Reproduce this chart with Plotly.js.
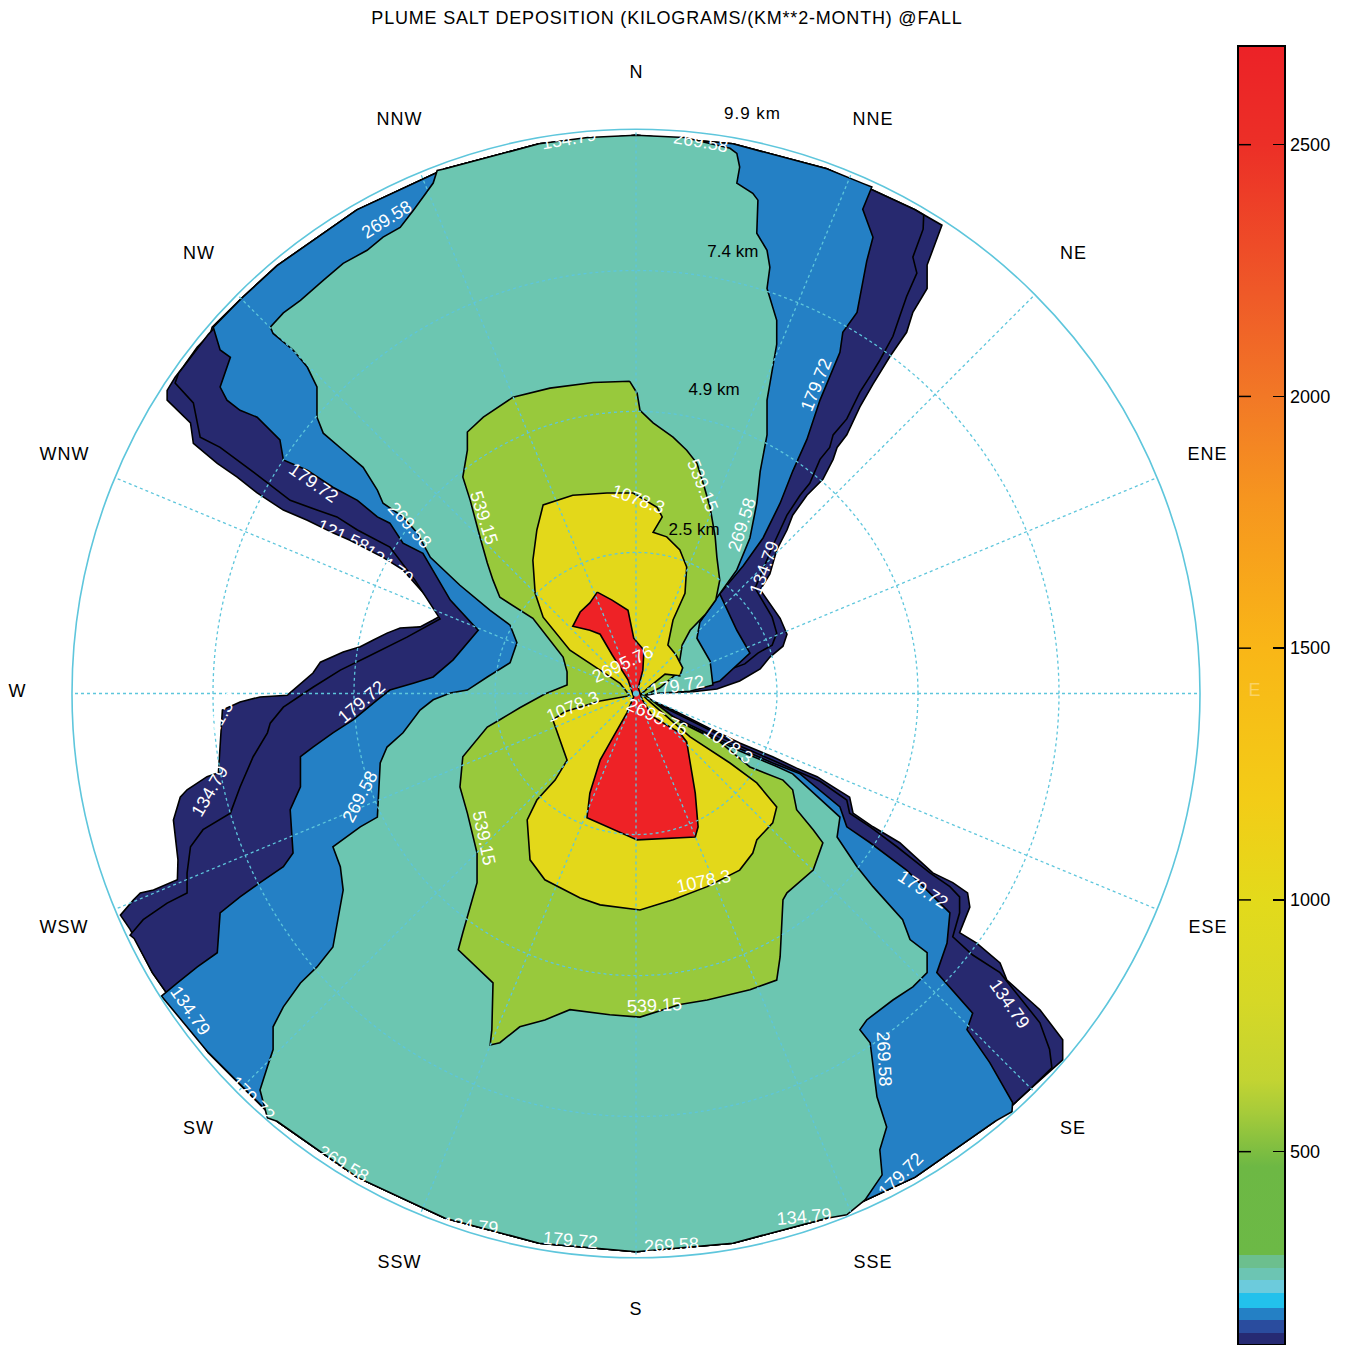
<!DOCTYPE html>
<html>
<head>
<meta charset="utf-8">
<script src="https://cdn.plot.ly/plotly-3.0.1.min.js"></script>
<style>
html,body{margin:0;padding:0;background:#ffffff;}
#chart{width:1348px;height:1345px;}
#chart .gtitle{letter-spacing:0.8px;}
#chart .annotation-text{letter-spacing:1px;}
</style>
</head>
<body>
<div id="chart"></div>
<script>
// ---------------- DATA ----------------
const chartTitle = 'PLUME SALT DEPOSITION (KILOGRAMS/(KM**2-MONTH) @FALL';
const directionLabels = ['N','NNE','NE','ENE','E','ESE','SE','SSE','S','SSW','SW','WSW','W','WNW','NW','NNW'];
const directionBearings = [0,22.5,45,67.5,90,112.5,135,157.5,180,202.5,225,247.5,270,292.5,315,337.5];
const radialMaxKm = 9.9;
const ringDistancesKm = [2.475, 4.95, 7.425];
const ringLabelText = ['2.5 km','4.9 km','7.4 km'];
const outerRingLabel = '9.9 km';
const levelValues = [121.58, 134.79, 179.72, 269.58, 539.15, 1078.3, 2695.76];
const colorbarTicks = [500, 1000, 1500, 2000, 2500];

// contour boundaries (km east, km north of source), traced clockwise from north
const contour121 = [[0,9.8],[1.70,9.65],[3.35,9.21],[4.90,8.49],[5.37,8.22],
[5.11,7.52],[5.11,7.11],[4.86,6.69],[4.75,6.34],[4.46,5.92],[4.16,5.43],[3.93,5.03],[3.70,4.54],[3.53,4.32],[3.46,4.11],[3.28,3.76],[3.00,3.48],[2.75,3.13],[2.65,2.87],[2.47,2.52],[2.35,2.10],[2.18,1.82],[2.53,1.32],[2.65,1.04],[2.58,0.83],[2.35,0.64],[2.18,0.43],[1.82,0.22],[1.42,0.08],[1.00,0.03],[0.42,0.01],[0.16,-0.01],[0.07,-0.03],
[0.65,-0.29],[1.25,-0.59],[1.82,-0.87],[2.40,-1.11],[2.82,-1.31],[3.18,-1.46],[3.46,-1.64],[3.75,-1.82],[3.81,-2.10],[4.16,-2.34],[4.63,-2.62],[5.21,-3.15],[5.56,-3.32],[5.82,-3.50],[5.86,-3.75],[5.68,-4.20],[5.98,-4.38],[6.39,-4.73],[6.51,-5.03],[7.09,-5.55],[7.49,-6.08],[7.49,-6.43],
[6.93,-6.93],[6.30,-7.51],[4.90,-8.49],[3.35,-9.21],[1.70,-9.65],[0,-9.8],[-1.70,-9.65],[-3.35,-9.21],[-4.90,-8.49],[-6.30,-7.51],[-7.51,-6.30],[-8.49,-4.90],[-8.88,-4.14],
[-9.05,-3.89],[-8.82,-3.62],[-8.70,-3.50],[-8.47,-3.45],[-8.05,-3.27],[-8.04,-2.92],[-8.12,-2.22],[-8.00,-1.82],[-7.88,-1.69],[-7.53,-1.46],[-7.33,-1.39],[-7.26,-0.29],[-6.95,-0.15],[-6.60,-0.06],[-6.12,-0.03],[-5.67,0.36],[-5.54,0.55],[-5.14,0.73],[-4.84,0.82],[-4.61,0.94],[-4.37,1.06],[-4.14,1.15],[-3.79,1.17],[-3.56,1.29],[-3.40,1.38],
[-3.70,1.73],[-4.09,2.17],[-4.44,2.39],[-5.02,2.69],[-5.32,2.82],[-5.77,3.04],[-6.19,3.22],[-6.65,3.52],[-7.00,3.80],[-7.35,4.04],[-7.77,4.39],[-7.82,4.75],[-8.23,5.15],[-8.23,5.32],[-8.09,5.55],[-7.95,5.73],[-7.70,6.08],[-7.47,6.32],[-7.44,6.43],
[-6.93,6.93],[-6.30,7.51],[-4.90,8.49],[-3.35,9.21],[-1.70,9.65]];

const contour134 = [[0,9.8],[1.70,9.65],[3.35,9.21],[4.90,8.49],[5.05,8.40],[5.04,8.15],[4.86,7.66],[4.93,7.38],[4.75,6.97],[4.63,6.62],[4.51,6.27],[4.28,5.85],[4.11,5.57],[3.93,5.29],[3.70,4.82],[3.46,4.54],[3.40,4.32],[3.23,4.11],[3.05,3.69],[2.88,3.48],[2.65,3.13],[2.53,2.87],[2.40,2.59],[2.26,2.25],[2.09,1.85],[2.39,1.34],[2.47,1.06],[2.39,0.85],[2.14,0.71],[1.91,0.52],[1.47,0.36],[1.12,0.22],[0.72,0.08],[0.25,0.03],[0.07,-0.03],
[0.65,-0.32],[1.25,-0.62],[1.82,-0.92],[2.40,-1.17],[2.82,-1.36],[3.23,-1.54],[3.70,-1.87],[3.75,-2.10],[4.11,-2.34],[4.58,-2.69],[5.16,-3.15],[5.51,-3.39],[5.68,-3.57],[5.68,-3.85],[5.56,-4.27],[5.91,-4.59],[6.39,-4.90],[7.09,-5.78],[7.26,-6.25],[7.30,-6.57],
[6.93,-6.93],[6.30,-7.51],[4.90,-8.49],[3.35,-9.21],[1.70,-9.65],[0,-9.8],[-1.70,-9.65],[-3.35,-9.21],[-4.90,-8.49],[-6.30,-7.51],[-7.51,-6.30],[-8.49,-4.90],[-8.81,-4.30],
[-8.88,-4.24],[-8.65,-3.97],[-8.23,-3.68],[-7.88,-3.50],[-7.88,-3.15],[-7.82,-2.69],[-7.60,-2.39],[-7.12,-2.10],[-6.95,-1.64],[-6.72,-1.11],[-6.47,-0.69],[-6.42,-0.52],[-6.19,-0.24],[-5.67,0.11],[-5.19,0.41],[-4.72,0.64],[-4.02,0.99],[-3.44,1.31],
[-3.88,1.99],[-4.32,2.57],[-4.89,2.87],[-5.25,3.10],[-5.60,3.22],[-6.07,3.39],[-6.60,3.80],[-7.30,4.32],[-7.65,4.50],[-7.77,5.10],[-8.09,5.45],
[-8.03,5.62],[-7.51,6.30],[-6.93,6.93],[-6.30,7.51],[-4.90,8.49],[-3.35,9.21],[-1.70,9.65]];

const contour179 = [[0,9.8],[1.70,9.65],[3.35,9.21],[3.99,8.95],[4.14,8.89],[3.98,8.50],[4.16,8.01],[4.05,7.59],[3.88,6.69],[3.63,6.34],[3.58,5.99],[3.23,5.15],[3.00,4.46],[2.75,3.90],[2.53,3.34],[2.23,2.73],[1.88,2.24],[1.47,1.75],[1.77,1.11],[2.00,0.71],[1.47,0.22],[1.00,0.08],[0.42,0.03],[0.09,-0.03],
[0.60,-0.38],[1.21,-0.68],[1.82,-0.97],[2.40,-1.22],[2.88,-1.41],[3.58,-1.99],[3.70,-2.34],[4.11,-2.62],[4.75,-3.10],[5.51,-3.85],[5.46,-4.38],[5.28,-4.90],[5.91,-5.61],[5.81,-5.90],[6.21,-6.48],[6.61,-7.18],[6.60,-7.34],
[6.30,-7.51],[4.90,-8.49],[3.35,-9.21],[1.70,-9.65],[0,-9.8],[-1.70,-9.65],[-3.35,-9.21],[-4.90,-8.49],[-6.30,-7.51],[-7.51,-6.30],
[-8.33,-5.31],[-8.05,-5.08],[-7.70,-4.80],[-7.35,-4.55],[-7.30,-3.85],[-6.95,-3.57],[-6.60,-3.32],[-6.19,-3.04],[-6.02,-2.80],[-6.07,-2.04],[-5.89,-1.64],[-5.89,-1.11],[-5.67,-0.94],[-5.32,-0.69],[-4.96,-0.46],[-4.54,-0.11],[-4.32,0.06],[-3.91,0.18],[-3.56,0.29],[-3.21,0.59],[-2.77,1.11],
[-3.26,1.64],[-3.74,2.46],[-4.09,2.64],[-4.32,2.99],[-4.54,3.10],[-4.89,3.39],[-5.32,3.62],[-5.77,3.92],[-6.19,4.10],[-6.25,4.45],[-6.65,4.85],[-6.95,4.97],[-7.18,5.15],[-7.30,5.38],[-7.12,5.90],[-7.30,6.03],[-7.42,6.43],
[-6.93,6.93],[-6.30,7.51],[-4.90,8.49],[-3.35,9.21],[-1.70,9.65]];

const contour269 = [[0,9.8],[0.85,9.76],[1.65,9.57],[1.77,9.48],[1.82,9.24],[1.77,8.96],[2.05,8.78],[2.14,8.66],[2.12,8.08],[2.30,7.78],[2.35,7.48],[2.30,7.11],[2.47,6.55],[2.47,6.13],[2.30,5.15],[2.30,4.54],[2.18,3.90],[2.12,3.34],[2.00,2.73],[1.77,2.17],[1.42,1.68],[1.12,1.25],[1.07,0.97],[1.30,0.57],[1.35,0.15],[0.95,0.04],[0.42,0.01],[0.11,-0.04],
[0.60,-0.41],[1.21,-0.71],[1.82,-1.01],[2.44,-1.27],[2.75,-1.41],[3.58,-2.17],[3.53,-2.52],[3.88,-3.04],[4.16,-3.39],[4.68,-3.97],[4.81,-4.32],[5.11,-4.55],[5.11,-4.90],[4.86,-5.15],[4.51,-5.38],[4.05,-5.73],[3.93,-5.90],[4.11,-6.13],[4.23,-7.08],[4.40,-7.61],[4.28,-8.01],[4.32,-8.45],[4.02,-8.89],[3.70,-9.15],
[3.35,-9.21],[1.70,-9.65],[0,-9.8],[-1.70,-9.65],[-3.35,-9.21],[-4.90,-8.49],[-6.30,-7.51],
[-6.47,-7.45],[-6.60,-6.96],[-6.47,-6.55],[-6.37,-6.25],[-6.37,-5.85],[-6.19,-5.50],[-5.89,-5.08],[-5.60,-4.80],[-5.32,-4.45],[-5.14,-3.45],[-5.19,-3.04],[-5.32,-2.69],[-4.84,-2.34],[-4.54,-2.17],[-4.49,-1.22],[-4.37,-0.94],[-4.09,-0.69],[-3.79,-0.29],[-3.56,-0.11],[-3.26,0.01],[-2.96,0.06],[-2.61,0.29],[-2.21,0.54],[-2.09,0.89],
[-2.21,1.20],[-2.56,1.46],[-3.09,1.90],[-3.61,2.39],[-3.84,2.82],[-4.09,3.10],[-4.44,3.34],[-4.54,3.57],[-4.79,3.97],[-5.14,4.27],[-5.49,4.57],[-5.60,4.85],[-5.60,5.38],[-5.77,5.73],[-6.02,6.03],[-6.37,6.32],[-6.42,6.43],[-6.19,6.68],[-5.89,6.90],[-5.49,7.25],[-5.14,7.55],[-4.72,7.78],[-4.44,8.01],[-4.14,8.18],[-3.91,8.48],[-3.74,8.71],[-3.56,8.96],[-3.49,9.18],
[-3.35,9.21],[-1.70,9.65],[-0.85,9.76]];

const contour539 = [[-0.11,5.48],[0.02,5.27],[0.07,4.97],[0.30,4.75],[0.65,4.50],[0.89,4.27],[1.07,4.04],[1.18,3.69],[1.30,3.27],[1.39,2.75],[1.42,2.39],[1.47,1.99],[1.40,1.64],[1.21,1.38],[0.95,1.11],[0.81,0.85],[0.77,0.59],[0.68,0.32],[0.42,0.10],[0.16,-0.03],
[0.77,-0.50],[1.47,-0.85],[2.00,-1.29],[2.58,-1.52],[2.75,-1.69],[2.82,-2.04],[3.11,-2.39],[3.28,-2.62],[3.11,-3.10],[2.65,-3.50],[2.58,-3.62],[2.53,-4.62],[2.47,-5.03],[2.00,-5.20],[1.25,-5.38],[0.77,-5.46],[0.07,-5.68],[-0.46,-5.64],[-1.16,-5.55],[-1.60,-5.73],[-2.04,-5.85],[-2.39,-6.13],[-2.56,-6.17],[-2.53,-5.90],[-2.51,-5.08],[-3.12,-4.50],[-3.04,-4.20],[-2.79,-3.32],[-2.79,-2.80],[-2.96,-2.10],[-3.09,-1.64],[-3.04,-1.11],[-2.61,-0.59],[-2.39,-0.46],[-2.04,-0.25],[-1.60,-0.01],[-1.21,0.15],[-1.21,0.38],[-1.28,0.64],[-1.81,1.32],[-2.39,1.69],[-2.51,1.99],[-2.61,2.29],[-2.74,2.75],[-2.91,3.39],[-3.04,3.80],[-2.96,4.27],[-2.96,4.59],[-2.68,4.85],[-2.16,5.20],[-1.51,5.36],[-0.75,5.46]];

const contour1078 = [[-0.05,3.52],[0.37,3.27],[0.46,3.10],[0.30,2.83],[0.54,2.75],[0.77,2.52],[0.89,2.22],[0.86,1.76],[0.65,1.29],[0.56,0.85],[0.70,0.68],[0.82,0.45],[0.77,0.31],[0.51,0.34],[0.25,0.13],[0.09,-0.01],
[0.25,-0.15],[0.95,-0.76],[1.65,-1.22],[2.12,-1.57],[2.47,-1.99],[2.40,-2.27],[2.12,-2.57],[2.05,-2.80],[1.82,-3.10],[1.25,-3.39],[0.65,-3.62],[0.07,-3.80],[-0.63,-3.71],[-0.98,-3.59],[-1.60,-3.27],[-1.86,-2.92],[-1.91,-2.22],[-1.74,-1.87],[-1.42,-1.52],[-1.21,-1.17],[-1.46,-0.46],[-1.25,-0.32],[-0.63,-0.13],[-0.11,-0.04],
[-0.28,0.18],[-0.63,0.41],[-1.16,0.76],[-1.63,1.34],[-1.77,1.76],[-1.81,2.34],[-1.74,2.87],[-1.63,3.31],[-1.11,3.48],[-0.51,3.52]];

const contour2695 = [[-0.68,1.78],[-0.42,1.64],[-0.14,1.46],[-0.04,0.97],[0.14,0.76],[0.12,0.41],[0.04,0.10],
[0.11,-0.11],[0.30,-0.41],[0.77,-0.69],[0.89,-0.85],[0.98,-1.39],[1.04,-1.75],[1.09,-2.34],[1.04,-2.52],[0.02,-2.57],[-0.86,-2.18],[-0.81,-1.75],[-0.63,-1.17],[-0.40,-0.76],[-0.16,-0.34],[-0.04,-0.06],
[-0.14,0.24],[-0.42,0.68],[-0.63,1.04],[-0.81,1.11],[-1.11,1.18],[-0.98,1.43],[-0.81,1.59]];

// contour labels
const labelText = ['1078.3','539.15','539.15','269.58','179.72','134.79','269.58','179.72','121.58','134.79','269.58','539.15','269.58','179.72','134.79','2695.76','1078.3','2695.76','1078.3','179.72','1078.3','539.15','179.72','134.79','269.58','179.72','269.58','179.72','134.79','134.79','269.58','179.72','134.79','269.58','134.79','134.79','121.58'];

// ---------------- PLACEMENT / STYLE ----------------
const labelPos = [[0,3.39],[-2.77,3.13],[1.07,3.69],[1.96,3.01],[3.26,5.46],[2.35,2.25],[-4.05,2.96],[-5.72,3.69],[-5.19,2.75],[-4.40,2.25],[-4.32,8.31],[-2.77,-2.48],[-4.75,-1.78],[-4.75,-0.15],[-7.39,-1.69],[-0.19,0.50],[-1.07,-0.25],[0.33,-0.43],[1.56,-0.90],[0.74,0.11],[1.21,-3.32],[0.33,-5.50],[4.98,-3.45],[6.47,-5.43],[4.25,-6.34],[4.72,-8.45],[0.63,-9.71],[-1.16,-9.62],[-2.91,-9.37],[2.96,-9.21],[-5.19,-8.27],[-6.81,-7.11],[-7.91,-5.55],[1.12,9.66],[-1.16,9.71],[4.72,8.76],[-7.21,-0.39]];
const labelAngle = [20,72,68,-72,-68,-70,48,35,25,35,-32,78,-62,-40,-60,-25,-22,25,35,-10,-12,-3,33,55,87,-45,-3,5,5,-5,30,45,55,10,-10,25,-60];
const ringLabelPos = [[1.02,2.85],[1.37,5.31],[1.70,7.73]];
const outerRingLabelPos = [2.04, 10.18];
const directionLabelKm = 10.86;

const fillColors = ['#27296f','#27296f','#2480c5','#6cc6b1','#98c93c','#e3d81a','#ee2226'];
const FONT = 'Liberation Sans, Arial, Helvetica, sans-serif';
const gridColor = '#5ec6dc';

const cbValues = [116,140,140,166,166,190,190,220,220,245,245,269,269,295,295,470,577,643,800,1000,1200,1500,1800,2000,2200,2500,2696];
const cbColors = ['#262a73','#262a73','#2a4c9e','#2a4c9e','#2480c5','#2480c5','#22c1ec','#22c1ec','#6ccbdc','#6ccbdc','#6cc5b3','#6cc5b3','#6cbf8e','#6cbf8e','#6cb946','#6db844','#a6cb3a','#c3d432','#d6d826','#e3da1b','#f3cc17','#f9b617','#f6951f','#f27826','#ef5a28','#ec2f27','#ec2227'];

// ---------------- BUILD ----------------
function toPolar(pts, close) {
  const r = [], t = [];
  const list = close ? pts.concat([pts[0]]) : pts;
  list.forEach(p => {
    r.push(Math.hypot(p[0], p[1]));
    t.push(((Math.atan2(p[0], p[1]) * 180 / Math.PI) + 360) % 360);
  });
  return {r, t};
}

const W = 1348, H = 1345;
const domain = {x: [72 / W, 1200 / W], y: [87.5 / H, 1215.5 / H]};
const cxF = (domain.x[0] + domain.x[1]) / 2, cyF = (domain.y[0] + domain.y[1]) / 2;
const kxF = (domain.x[1] - domain.x[0]) / 2 / radialMaxKm, kyF = (domain.y[1] - domain.y[0]) / 2 / radialMaxKm;
function kmToPaper(e, n) { return {x: cxF + e * kxF, y: cyF + n * kyF}; }

const contours = [contour121, contour134, contour179, contour269, contour539, contour1078, contour2695];
const traces = [];
contours.forEach((c, i) => {
  const p = toPolar(c, true);
  traces.push({
    type: 'scatterpolar', subplot: 'polar', r: p.r, theta: p.t,
    mode: 'lines', fill: 'toself', fillcolor: fillColors[i],
    line: {color: '#000000', width: 1.6},
    hoverinfo: 'skip', name: String(levelValues[i]), showlegend: false
  });
});

const vmin = cbValues[0], vmax = cbValues[cbValues.length - 1];
const colorscale = cbValues.map((v, i) => [(v - vmin) / (vmax - vmin), cbColors[i]]);
const cbTopPx = 46, cbLenPx = 1299, cbLeftPx = 1238, cbThick = 47;

traces.push({
  type: 'scatterpolar', subplot: 'polar', r: [0], theta: [0], mode: 'markers',
  hoverinfo: 'skip', showlegend: false,
  marker: {
    size: 1, opacity: 0, color: [vmin], cmin: vmin, cmax: vmax, colorscale: colorscale, showscale: true,
    colorbar: {
      x: cbLeftPx / W, xanchor: 'left', y: (H - cbTopPx) / H, yanchor: 'top',
      len: cbLenPx, lenmode: 'pixels', thickness: cbThick, thicknessmode: 'pixels',
      xpad: 0, ypad: 0, outlinewidth: 2, outlinecolor: '#000', borderwidth: 0,
      tickmode: 'array', tickvals: colorbarTicks, ticks: 'inside', ticklen: 13, tickwidth: 1.5, tickcolor: '#000',
      tickfont: {family: FONT, size: 18, color: '#000'}
    }
  }
});

const lp = toPolar(labelPos, false);
traces.push({
  type: 'scatterpolar', subplot: 'polar2', r: lp.r, theta: lp.t, mode: 'text',
  text: labelText, textposition: 'middle center', cliponaxis: false,
  textfont: {family: FONT, size: 18, color: '#ffffff'}, hoverinfo: 'skip', showlegend: false
});

const rp = toPolar(ringLabelPos, false);
traces.push({
  type: 'scatterpolar', subplot: 'polar2', r: rp.r, theta: rp.t, mode: 'text',
  text: ringLabelText, textposition: 'middle center', cliponaxis: false,
  textfont: {family: FONT, size: 17, color: '#000000'}, hoverinfo: 'skip', showlegend: false
});

// compass labels and outer ring label as annotations
const annotations = directionLabels.map((lab, i) => {
  const b = directionBearings[i] * Math.PI / 180;
  const p = kmToPaper(directionLabelKm * Math.sin(b), directionLabelKm * Math.cos(b));
  return {xref: 'paper', yref: 'paper', x: p.x, y: p.y, xanchor: 'center', yanchor: 'middle', yshift: 3,
    text: lab, showarrow: false,
    font: {family: FONT, size: 18, color: lab === 'E' ? 'rgba(255,255,255,0.35)' : '#000'}};
});
const orp = kmToPaper(outerRingLabelPos[0], outerRingLabelPos[1]);
annotations.push({xref: 'paper', yref: 'paper', x: orp.x, y: orp.y, xanchor: 'center', yanchor: 'middle',
  text: outerRingLabel, showarrow: false, font: {family: FONT, size: 17, color: '#000'}});

const layout = {
  width: W, height: H,
  margin: {l: 0, r: 0, t: 0, b: 0, pad: 0, autoexpand: false},
  paper_bgcolor: '#ffffff', plot_bgcolor: '#ffffff',
  showlegend: false, dragmode: false,
  font: {family: FONT, color: '#000'},
  title: {text: chartTitle, x: 667 / W, xanchor: 'center', y: 1 - 18 / H, yanchor: 'middle',
          font: {family: FONT, size: 18, color: '#000'}},
  annotations: annotations,
  polar: {
    domain: domain, bgcolor: '#ffffff',
    radialaxis: {range: [0, radialMaxKm], visible: false},
    angularaxis: {visible: false, direction: 'clockwise', rotation: 90, thetaunit: 'degrees'}
  },
  polar2: {
    domain: domain, bgcolor: 'rgba(0,0,0,0)',
    radialaxis: {range: [0, radialMaxKm], tickmode: 'array', tickvals: ringDistancesKm,
      showticklabels: false, ticks: '', showline: false,
      showgrid: true, gridcolor: gridColor, griddash: 'dot', gridwidth: 1.3},
    angularaxis: {direction: 'clockwise', rotation: 90, thetaunit: 'degrees',
      tickmode: 'array', tickvals: directionBearings, showticklabels: false, ticks: '',
      showline: true, linecolor: gridColor, linewidth: 1.6,
      showgrid: true, gridcolor: gridColor, griddash: 'dot', gridwidth: 1.3}
  }
};

const gd = document.getElementById('chart');
Plotly.newPlot(gd, traces, layout, {displayModeBar: false, staticPlot: true}).then(() => {
  // rotate contour labels along their lines
  gd.querySelectorAll('g.trace.scatter').forEach(g => {
    const texts = g.querySelectorAll('g.textpoint text');
    if (texts.length === labelText.length && texts[0].textContent === labelText[0]) {
      texts.forEach((t, i) => {
        const x = t.getAttribute('x'), y = t.getAttribute('y');
        t.setAttribute('transform', 'rotate(' + labelAngle[i] + ',' + x + ',' + y + ')');
      });
    }
  });
  // mirror the colorbar tick marks on the left edge of the bar
  const svgs = gd.querySelectorAll('svg.main-svg');
  const top = svgs[svgs.length - 1];
  const NS = 'http://www.w3.org/2000/svg';
  colorbarTicks.forEach(v => {
    const ypx = cbTopPx + (vmax - v) / (vmax - vmin) * cbLenPx;
    const ln = document.createElementNS(NS, 'line');
    ln.setAttribute('x1', cbLeftPx); ln.setAttribute('x2', cbLeftPx + 13);
    ln.setAttribute('y1', ypx); ln.setAttribute('y2', ypx);
    ln.setAttribute('stroke', '#000'); ln.setAttribute('stroke-width', '1.5');
    top.appendChild(ln);
  });
});
</script>
</body>
</html>
